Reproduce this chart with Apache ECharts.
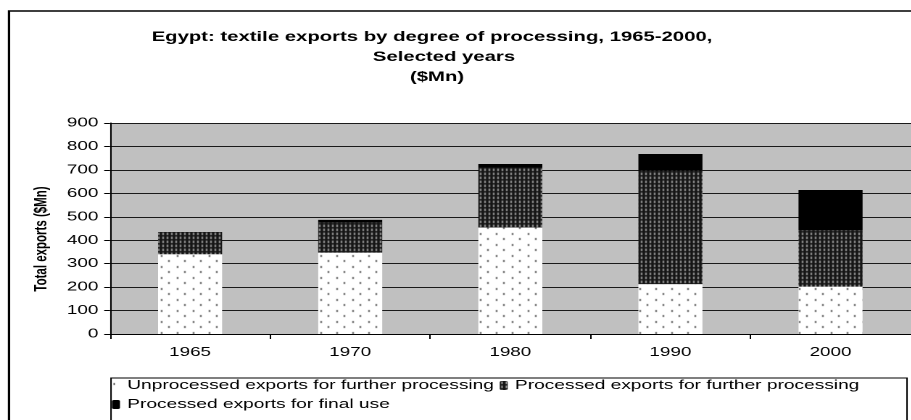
<!DOCTYPE html>
<html>
<head>
<meta charset="utf-8">
<script src="https://cdn.jsdelivr.net/npm/echarts@6/dist/echarts.min.js"></script>
<style>
html,body{margin:0;padding:0;background:#fff;overflow:hidden;width:911px;height:420px;}
#c{height:420px;transform-origin:0 0;}
</style>
</head>
<body>
<div id="c"></div>
<script>
// ---- data ----
const categories = ['1965', '1970', '1980', '1990', '2000'];
const unprocessedFurther = [340, 347, 454, 213, 202];
const processedFurther = [95, 128, 256, 484, 240];
const processedFinal = [0, 12, 15, 71, 172];
const seriesNames = [
  'Unprocessed exports for further processing',
  'Processed exports for further processing',
  'Processed exports for final use'
];
const yTicks = { min: 0, max: 900, interval: 100 };
const titleLines = ['Egypt: textile exports by degree of processing, 1965-2000,', 'Selected years', '($Mn)'];
const yAxisName = 'Total exports ($Mn)';

// ---- layout (the reference is horizontally stretched) ----
const S = 1.45;
const W = 911 / S;
const X = v => v / S;
const FONT = "'Liberation Sans', Arial, sans-serif";

const el = document.getElementById('c');
el.style.width = W + 'px';
el.style.transform = 'scaleX(' + S + ')';

function makePattern(w, h, draw) {
  const cv = document.createElement('canvas');
  cv.width = w; cv.height = h;
  const ctx = cv.getContext('2d');
  draw(ctx);
  return { image: cv, repeat: 'repeat' };
}
const dotPattern = makePattern(11, 11, ctx => {
  ctx.fillStyle = '#ffffff'; ctx.fillRect(0, 0, 11, 11);
  ctx.fillStyle = '#4a4a4a';
  ctx.fillRect(1, 2, 1, 2);
  ctx.fillRect(6, 7, 1, 2);
});
const hatchPattern = makePattern(3, 4, ctx => {
  ctx.fillStyle = '#161616'; ctx.fillRect(0, 0, 3, 4);
  ctx.fillStyle = '#b0b0b0'; ctx.fillRect(1, 1, 1, 2);
  ctx.fillStyle = '#505050'; ctx.fillRect(1, 0, 1, 1);
});

const chart = echarts.init(el, null, { renderer: 'canvas', devicePixelRatio: 2 });

const option = {
  animation: false,
  backgroundColor: '#ffffff',
  textStyle: { fontFamily: FONT },
  grid: {
    left: X(110), top: 123, width: X(912.5 - 110), height: 211,
    show: true, backgroundColor: '#c0c0c0', borderWidth: 0, containLabel: false
  },
  legend: {
    left: X(112), top: 378, width: X(800),
    itemWidth: X(8), itemHeight: 9, itemGap: 4,
    padding: 0,
    textStyle: { fontFamily: FONT, fontSize: 13.2, lineHeight: 15, color: '#000' },
    data: seriesNames
  },
  xAxis: {
    type: 'category', data: categories,
    axisLine: { lineStyle: { color: '#000', width: 1 } },
    axisTick: { show: true, interval: 0, alignWithLabel: false, length: 5, lineStyle: { color: '#000' } },
    axisLabel: { margin: 12, fontSize: 13, color: '#000', fontFamily: FONT },
    splitLine: { show: false }
  },
  yAxis: {
    type: 'value', min: yTicks.min, max: yTicks.max, interval: yTicks.interval,
    axisLine: { show: true, lineStyle: { color: '#000', width: 1 } },
    axisTick: { show: true, length: 4, lineStyle: { color: '#000' } },
    axisLabel: { margin: 8, fontSize: 13, color: '#000', fontFamily: FONT },
    splitLine: { show: true, lineStyle: { color: '#1a1a1a', width: 1 } }
  },
  series: [
    { name: seriesNames[0], type: 'bar', stack: 'total', data: unprocessedFurther,
      barCategoryGap: '60%', itemStyle: { color: dotPattern } },
    { name: seriesNames[1], type: 'bar', stack: 'total', data: processedFurther,
      itemStyle: { color: hatchPattern } },
    { name: seriesNames[2], type: 'bar', stack: 'total', data: processedFinal,
      itemStyle: { color: '#000000' } }
  ],
  graphic: [
    { type: 'rect', z: 100, silent: true,
      shape: { x: X(9), y: 11, width: X(1200), height: 1000 },
      style: { fill: 'none', stroke: '#000', lineWidth: 1.6 } },
    { type: 'rect', z: 100, silent: true,
      shape: { x: X(111), y: 378, width: X(907 - 111), height: 100 },
      style: { fill: 'none', stroke: '#000', lineWidth: 1 } },
    { type: 'text', z: 100, silent: true, x: X(432), y: 37,
      style: { text: titleLines[0], textAlign: 'center', textVerticalAlign: 'middle',
        font: 'bold 14px ' + FONT, fill: '#000' } },
    { type: 'text', z: 100, silent: true, x: X(444), y: 57,
      style: { text: titleLines[1], textAlign: 'center', textVerticalAlign: 'middle',
        font: 'bold 14px ' + FONT, fill: '#000' } },
    { type: 'text', z: 100, silent: true, x: X(437), y: 77,
      style: { text: titleLines[2], textAlign: 'center', textVerticalAlign: 'middle',
        font: 'bold 14px ' + FONT, fill: '#000' } },
    { type: 'text', z: 100, silent: true, x: X(42), y: 239, rotation: Math.PI / 2,
      style: { text: yAxisName, textAlign: 'center', textVerticalAlign: 'middle',
        font: 'bold 11.5px ' + FONT, fill: '#000' } }
  ]
};
chart.setOption(option);
</script>
</body>
</html>
